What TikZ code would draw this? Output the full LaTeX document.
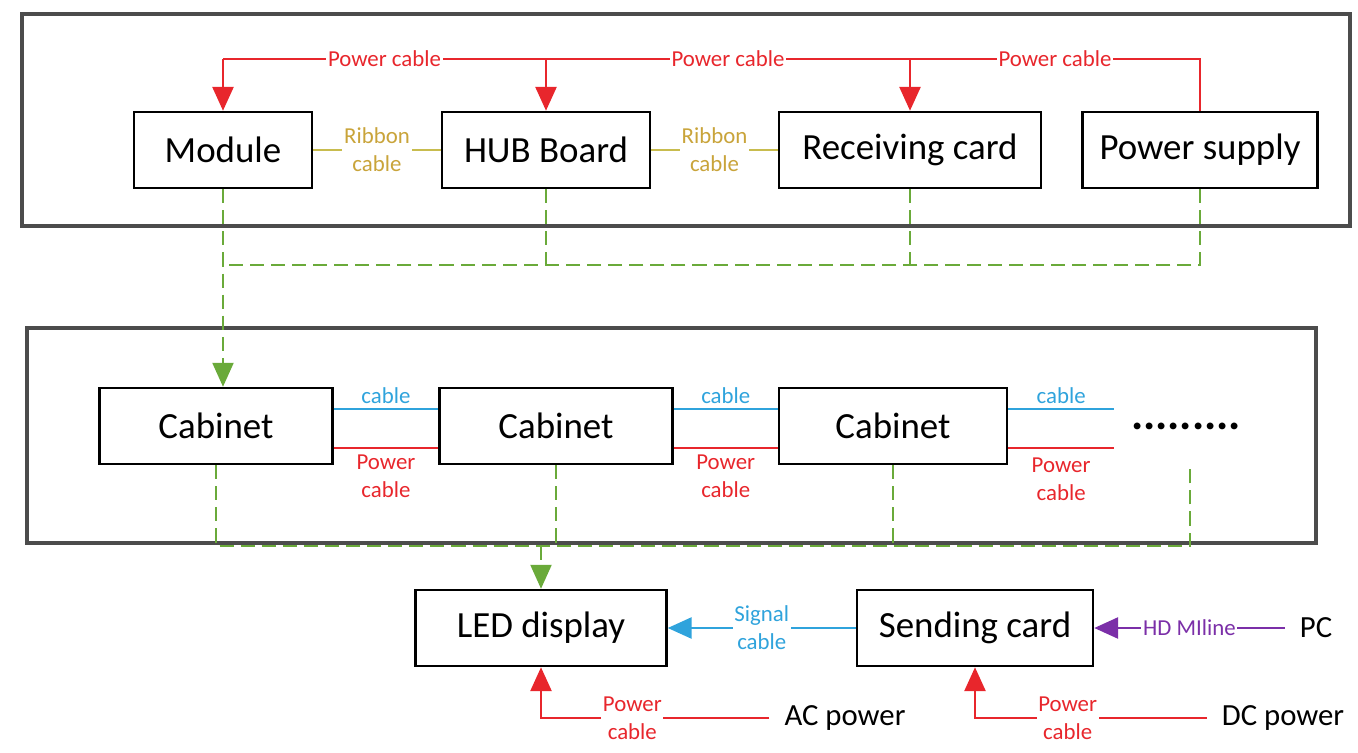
\documentclass[tikz,border=0pt]{standalone}
\usepackage{fontspec}
\setmainfont{Carlito}
\usepackage{xcolor}
\usetikzlibrary{arrows.meta}
\definecolor{pwrred}{HTML}{E8262C}
\definecolor{ribbonyel}{HTML}{C8BC4E}
\definecolor{ribbontxt}{HTML}{C9A43A}
\definecolor{sigblue}{HTML}{2FA3DC}
\definecolor{ledgreen}{HTML}{6AAA3A}
\definecolor{hdmipurple}{HTML}{7B2FA8}

\begin{document}
\begin{tikzpicture}[x=0.02cm, y=-0.02cm, >={Triangle[length=4.8mm,width=4.2mm]}, line width=1.4pt]
\tikzstyle{unit}=[rectangle, draw, line width=1.4pt, minimum height=1.52cm, inner sep=0pt, font=\fontsize{21}{24}\selectfont]
\tikzstyle{frame}=[draw=black!70, line width=2pt]
\tikzstyle{pwr}=[draw=pwrred, line width=1.6pt]
\tikzstyle{ribbon}=[draw=ribbonyel, line width=1.6pt]
\tikzstyle{sig}=[draw=sigblue, line width=1.6pt]
\tikzstyle{gdash}=[draw=ledgreen, line width=1.3pt, dash pattern=on 8pt off 4pt]
\tikzstyle{tag}=[fill=white, inner sep=1pt, align=center, font=\fontsize{13}{16}\selectfont]
\tikzstyle{plain}=[inner ysep=2pt, inner xsep=8pt, font=\fontsize{17.5}{20}\selectfont]
\useasboundingbox (0,0) rectangle (1358,753);
\draw[frame] (22,14) rectangle (1350,226);
\draw[frame] (27,328) rectangle (1316,543);
\coordinate (rail) at (0,59);
\coordinate (gbus) at (0,265);
\coordinate (cbus) at (0,546);
\node[unit, minimum width=3.56cm] (module) at (223,150) {Module};
\node[unit, minimum width=4.16cm] (hub) at (546,150) {HUB Board};
\node[unit, minimum width=5.24cm] (recv) at (910,150) {Receiving card};
\node[unit, minimum width=4.7cm] (psu) at (1200,150) {Power supply};
\node[unit, minimum width=4.66cm] (cab1) at (216,426) {Cabinet};
\node[unit, minimum width=4.66cm] (cab2) at (556,426) {Cabinet};
\node[unit, minimum width=4.56cm] (cab3) at (893,426) {Cabinet};
\coordinate (cabtail) at (1114,426);
\coordinate (cabn) at (1190,463);
\node[font=\fontsize{26}{28}\selectfont\bfseries] (dots) at (1186,426) {.........};
\node[unit, minimum width=5.02cm] (led) at (541,628) {LED display};
\node[unit, minimum width=4.72cm] (send) at (975,628) {Sending card};
\node[plain] (pc) at (1316,628) {PC};
\node[plain] (ac) at (845,718) {AC power};
\node[plain] (dc) at (1283,718) {DC power};
\draw[pwr] (psu.north) -- (psu.north |- rail)
  -- node[tag, text=pwrred] {Power cable} (recv.north |- rail)
  -- node[tag, text=pwrred] {Power cable} (hub.north |- rail)
  -- node[tag, text=pwrred] {Power cable} (module.north |- rail);
\draw[pwr, ->] (module.north |- rail) -- (module.north);
\draw[pwr, ->] (hub.north |- rail) -- (hub.north);
\draw[pwr, ->] (recv.north |- rail) -- (recv.north);
\draw[ribbon] (module) -- node[tag, text=ribbontxt] {Ribbon\\cable} (hub);
\draw[ribbon] (hub) -- node[tag, text=ribbontxt] {Ribbon\\cable} (recv);
\draw[gdash, ->] (module.south) -- (module.south |- cab1.north);
\draw[gdash] (hub.south) -- (hub.south |- gbus);
\draw[gdash] (recv.south) -- (recv.south |- gbus);
\draw[gdash] (psu.south) |- (module.south |- gbus);
\draw[sig] ([yshift=0.34cm]cab1.east) -- node[above, inner sep=2pt, text=sigblue, font=\fontsize{13}{16}\selectfont] {cable} ([yshift=0.34cm]cab2.west);
\draw[sig] ([yshift=0.34cm]cab2.east) -- node[above, inner sep=2pt, text=sigblue, font=\fontsize{13}{16}\selectfont] {cable} ([yshift=0.34cm]cab3.west);
\draw[sig] ([yshift=0.34cm]cab3.east) -- node[above, inner sep=2pt, text=sigblue, font=\fontsize{13}{16}\selectfont] {cable} ([yshift=0.34cm]cabtail);
\draw[pwr] ([yshift=-0.44cm]cab1.east) -- node[below, inner sep=3pt, align=center, text=pwrred, font=\fontsize{13}{16}\selectfont] {Power\\cable} ([yshift=-0.44cm]cab2.west);
\draw[pwr] ([yshift=-0.44cm]cab2.east) -- node[below, inner sep=3pt, align=center, text=pwrred, font=\fontsize{13}{16}\selectfont] {Power\\cable} ([yshift=-0.44cm]cab3.west);
\draw[pwr] ([yshift=-0.44cm]cab3.east) -- node[below, inner sep=5pt, align=center, text=pwrred, font=\fontsize{13}{16}\selectfont] {Power\\cable} ([yshift=-0.44cm]cabtail);
\draw[gdash] (cab1.south) |- (cabn |- cbus) -- (cabn);
\draw[gdash] (cab2.south) -- (cab2.south |- cbus);
\draw[gdash] (cab3.south) -- (cab3.south |- cbus);
\draw[gdash, ->] (led.north |- cbus) -- (led.north);
\draw[sig, ->] (send.west) -- node[tag, text=sigblue] {Signal\\cable} (led.east);
\draw[draw=hdmipurple, line width=1.6pt, ->] (pc.west) -- node[tag, text=hdmipurple] {HD MIline} (send.east);
\draw[pwr, ->] (ac.west) -| node[tag, text=pwrred, pos=0.3] {Power\\cable} (led.south);
\draw[pwr, ->] (dc.west) -| node[tag, text=pwrred, pos=0.3] {Power\\cable} (send.south);
\end{tikzpicture}
\end{document}
